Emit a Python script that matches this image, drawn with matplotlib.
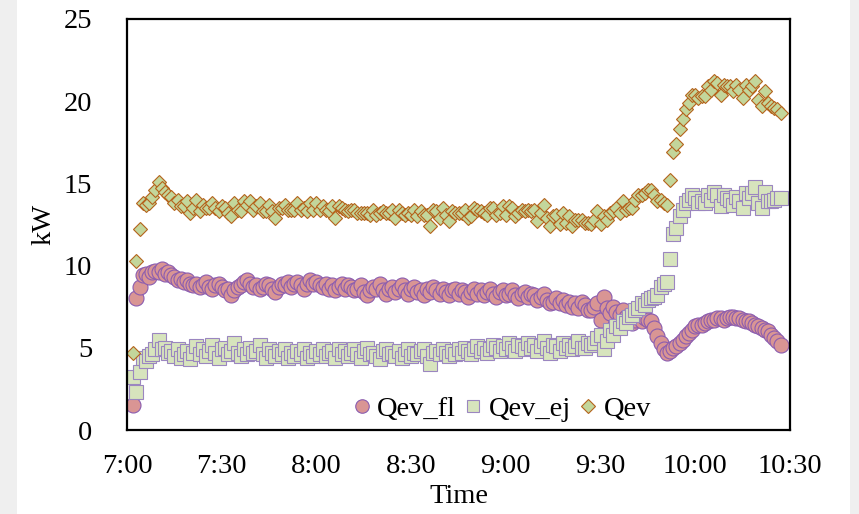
import numpy as np
import matplotlib
matplotlib.use("Agg")
import matplotlib.pyplot as plt
from matplotlib.patches import Rectangle

plt.rcParams['font.family'] = ['Liberation Serif', 'DejaVu Serif']

# minutes after 7:00, one sample per minute (7:02 .. 10:27)
minutes = np.arange(2, 208)

qev_fl = [
    1.5, 8.0, 8.7, 9.4, 9.5, 9.3, 9.6, 9.7, 9.6, 9.8,
    9.5, 9.6, 9.4, 9.3, 9.1, 9.2, 9.0, 9.1, 8.9, 8.8,
    8.9, 8.7, 8.8, 9.0, 8.7, 8.6, 8.8, 8.9, 8.7, 8.5,
    8.6, 8.2, 8.5, 8.7, 8.8, 9.0, 9.1, 8.9, 8.7, 8.8,
    8.6, 8.7, 8.9, 8.8, 8.6, 8.4, 8.7, 8.9, 8.8, 9.0,
    8.7, 8.9, 9.0, 8.8, 8.6, 8.9, 9.1, 8.9, 9.0, 8.8,
    8.7, 8.9, 8.6, 8.8, 8.5, 8.7, 8.9, 8.6, 8.8, 8.7,
    8.5, 8.6, 8.8, 8.4, 8.2, 8.5, 8.7, 8.6, 8.9, 8.5,
    8.3, 8.6, 8.7, 8.4, 8.6, 8.8, 8.5, 8.3, 8.6, 8.7,
    8.4, 8.5, 8.2, 8.6, 8.4, 8.7, 8.5, 8.3, 8.6, 8.4,
    8.2, 8.5, 8.6, 8.3, 8.5, 8.4, 8.1, 8.4, 8.6, 8.3,
    8.5, 8.2, 8.4, 8.6, 8.3, 8.1, 8.4, 8.5, 8.2, 8.3,
    8.5, 8.2, 8.0, 8.3, 8.4, 8.1, 8.3, 8.2, 7.9, 8.1,
    8.3, 7.9, 7.7, 7.8, 8.0, 7.7, 7.9, 7.6, 7.8, 7.5,
    7.7, 7.4, 7.8, 7.6, 7.3, 7.3, 7.5, 7.7, 6.7, 8.1,
    7.4, 7.1, 7.5, 7.2, 7.0, 7.3, 6.9, 6.6,
    6.5, 6.7, 6.9, 6.6, 6.8, 6.7, 6.6, 6.2, 5.7, 5.3,
    4.9, 4.7, 4.8, 5.0, 5.1, 5.3, 5.5, 5.7, 5.9, 6.1,
    6.3, 6.4, 6.4, 6.5, 6.6, 6.7, 6.7, 6.8, 6.8, 6.7,
    6.8, 6.9, 6.9, 6.8, 6.8, 6.7, 6.6, 6.6, 6.5, 6.4,
    6.3, 6.2, 6.1, 6.0, 5.8, 5.6, 5.4, 5.2,
]

qev_ej = [
    3.2, 2.3, 3.5, 4.4, 4.2, 4.5, 4.6, 4.9, 5.5, 4.9,
    5.0, 4.7, 4.8, 4.5, 4.9, 4.4, 4.6, 4.8, 4.3, 4.7,
    5.1, 4.6, 4.9, 4.5, 4.8, 5.2, 4.7, 4.4, 4.9, 5.0,
    4.6, 4.8, 5.3, 4.7, 4.5, 4.9, 4.6, 5.0, 4.7, 4.8,
    5.2, 4.6, 4.4, 4.9, 4.7, 4.5, 4.8, 4.6, 4.9, 4.4,
    4.7, 4.5, 4.8, 4.6, 4.9, 4.4, 4.7, 4.5, 4.8, 4.6,
    4.9, 4.5, 4.7, 4.8, 4.4, 4.9, 4.6, 4.8, 4.5, 4.7,
    4.9, 4.6, 4.4, 4.8, 5.0, 4.6, 4.7, 4.5, 4.3, 4.8,
    4.9, 4.6, 4.7, 4.5, 4.8, 4.4, 4.6, 4.9, 4.5, 4.7,
    4.6, 4.8, 4.9, 4.5, 4.0, 4.7, 4.8, 4.6, 4.9, 4.7,
    4.5, 4.8, 4.6, 4.9, 4.7, 5.0, 4.8, 4.6, 4.9, 5.1,
    4.8, 5.0, 4.7, 4.9, 5.2, 5.0, 4.8, 5.1, 4.9, 5.3,
    5.0, 4.8, 5.2, 5.1, 4.9, 5.3, 5.0, 5.2, 4.8, 5.1,
    5.4, 5.0, 4.7, 5.2, 5.1, 4.8, 5.3, 5.0, 5.2, 4.9,
    5.1, 5.4, 5.0, 5.0, 5.3, 5.2, 5.3, 5.6, 5.8, 4.9,
    5.4, 6.1, 5.8, 6.3, 6.2, 6.6, 6.5, 6.9,
    7.0, 7.3, 7.4, 7.7, 7.6, 7.9, 8.0, 8.1, 8.2, 8.7,
    8.9, 9.0, 10.4, 11.9, 12.3, 13.0, 13.4, 13.8, 14.0, 14.3,
    14.1, 13.8, 13.9, 13.8, 14.3, 14.0, 14.5, 14.3, 13.6, 14.3,
    14.1, 14.0, 13.7, 14.2, 13.9, 13.5, 14.4, 14.1, 14.4, 14.8,
    13.8, 13.5, 14.5, 13.9, 13.9, 14.0, 14.1, 14.1,
]

qev = [
    4.7, 10.3, 12.2, 13.8, 13.7, 13.8, 14.2, 14.6, 15.1, 14.7,
    14.5, 14.3, 14.2, 13.8, 14.0, 13.6, 13.6, 13.9, 13.2, 13.5,
    14.0, 13.3, 13.7, 13.5, 13.5, 13.8, 13.5, 13.3, 13.6, 13.5,
    13.2, 13.0, 13.8, 13.4, 13.3, 13.9, 13.7, 13.9, 13.4, 13.6,
    13.8, 13.3, 13.3, 13.7, 13.3, 12.9, 13.5, 13.5, 13.7, 13.4,
    13.4, 13.4, 13.8, 13.4, 13.5, 13.3, 13.8, 13.4, 13.8, 13.4,
    13.6, 13.4, 13.3, 13.6, 12.9, 13.6, 13.5, 13.4, 13.3, 13.4,
    13.4, 13.2, 13.2, 13.2, 13.2, 13.1, 13.4, 13.1, 13.2, 13.3,
    13.2, 13.2, 13.4, 12.9, 13.4, 13.2, 13.1, 13.2, 13.1, 13.4,
    13.0, 13.3, 13.1, 13.1, 12.4, 13.4, 13.3, 12.9, 13.5, 13.1,
    12.7, 13.3, 13.2, 13.2, 13.2, 13.4, 12.9, 13.0, 13.5, 13.4,
    13.3, 13.2, 13.1, 13.5, 13.5, 13.1, 13.2, 13.6, 13.1, 13.6,
    13.5, 13.0, 13.2, 13.4, 13.3, 13.4, 13.3, 13.4, 12.7, 13.2,
    13.7, 12.9, 12.4, 13.0, 13.1, 12.5, 13.2, 12.6, 13.0, 12.4,
    12.8, 12.8, 12.8, 12.6, 12.6, 12.5, 12.8, 13.3, 12.5, 13.0,
    12.8, 13.2, 13.3, 13.5, 13.2, 13.9, 13.4, 13.5,
    13.5, 14.0, 14.3, 14.3, 14.4, 14.6, 14.6, 14.3, 13.9, 14.0,
    13.8, 13.7, 15.2, 16.9, 17.4, 18.3, 18.9, 19.5, 19.9, 20.4,
    20.4, 20.2, 20.3, 20.3, 20.9, 20.7, 21.2, 21.1, 20.4, 21.0,
    20.9, 20.9, 20.6, 21.0, 20.7, 20.2, 21.0, 20.7, 20.9, 21.2,
    20.1, 19.7, 20.6, 19.9, 19.7, 19.6, 19.5, 19.3,
]

tick_minutes = [0, 30, 60, 90, 120, 150, 180, 210]
tick_labels = ["7:00", "7:30", "8:00", "8:30", "9:00", "9:30", "10:00", "10:30"]

fig = plt.figure(figsize=(8.59, 5.14), dpi=100)
fig.patch.set_facecolor("white")
# faint grey strips at the page edges
fig.patches.append(Rectangle((0, 0), 17 / 859, 1, transform=fig.transFigure,
                             facecolor="#efefef", edgecolor="none", zorder=0))
fig.patches.append(Rectangle((850 / 859, 0), 9 / 859, 1, transform=fig.transFigure,
                             facecolor="#efefef", edgecolor="none", zorder=0))

ax = fig.add_axes([127 / 859, 1 - 430 / 514, 663 / 859, 411 / 514])

fs = 20.5
ax.plot(minutes, qev_fl, 'o', ms=10.8, mfc='#d99594', mec='#8a5cb0', mew=0.8,
        label="Qev_fl")
ax.plot(minutes, qev_ej, 's', ms=10.0, mfc='#d7e4bd', mec='#9b86c0', mew=0.8,
        label="Qev_ej")
ax.plot(minutes, qev, 'D', ms=7.6, mfc='#c3d69b', mec='#b5631c', mew=0.8,
        label="Qev")

ax.set_xlim(0, 210)
ax.set_ylim(0, 25)
ax.set_xticks(tick_minutes)
ax.set_xticklabels(tick_labels)
ax.set_yticks([0, 5, 10, 15, 20, 25])
ax.tick_params(axis='both', length=0, labelsize=fs)
ax.tick_params(axis='x', pad=17)
ax.tick_params(axis='y', pad=25)

for s in ax.spines.values():
    s.set_linewidth(1.6)
    s.set_color('black')

ax.set_xlabel("Time", fontsize=fs, labelpad=4)
ax.set_ylabel("kW", fontsize=fs, labelpad=5)

leg = ax.legend(loc='center', bbox_to_anchor=(0.566, 0.05), ncol=3, frameon=False,
                fontsize=fs, handlelength=0.6, handletextpad=0.25, columnspacing=0.3,
                borderpad=0, borderaxespad=0)
for h in leg.legend_handles:
    h.set_markersize(h.get_markersize() * 0.9)

fig.savefig("out.png", dpi=100)
